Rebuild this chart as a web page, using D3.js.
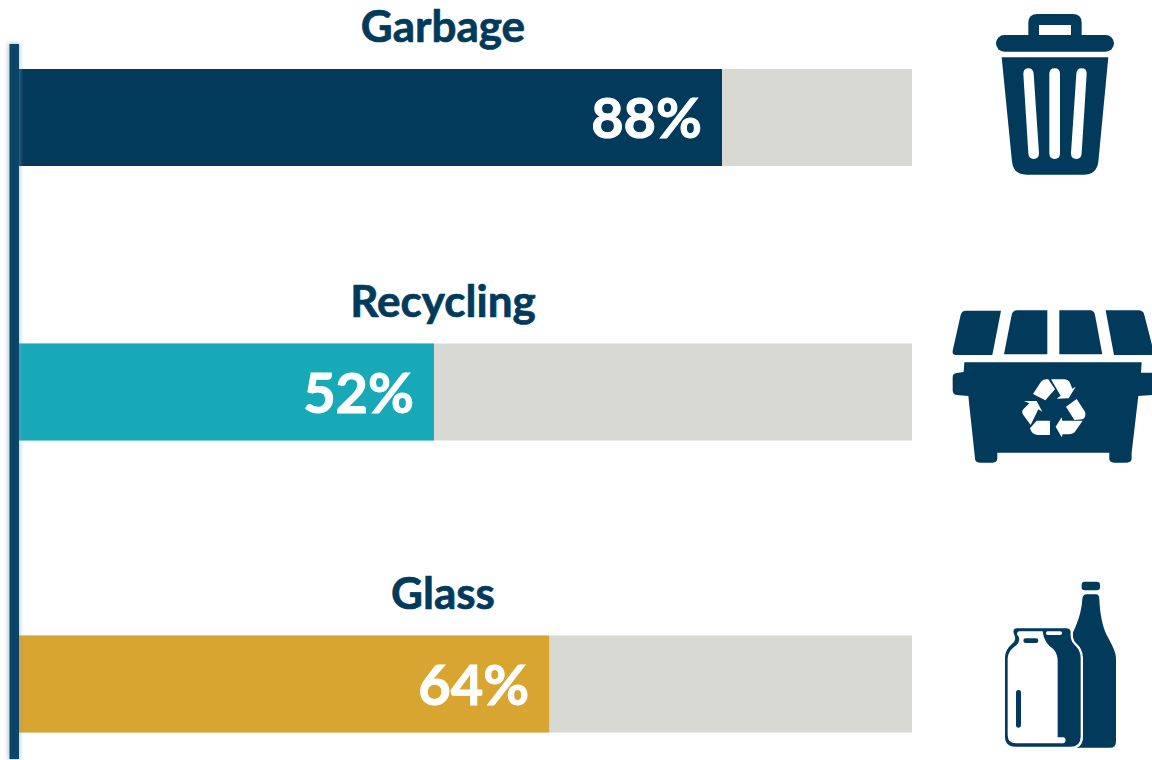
<!DOCTYPE html>
<html>
<head>
<meta charset="utf-8">
<script src="https://cdn.jsdelivr.net/npm/d3@7"></script>
<style>
  html, body { margin: 0; padding: 0; background: #fff; }
  svg { display: block; }
  text { font-family: Lato, "Open Sans", sans-serif; font-weight: 700; }
</style>
</head>
<body>
<div id="chart"></div>
<script>
const categories = ["Garbage", "Recycling", "Glass"]
const percentLabels = ["88%", "52%", "64%"]
// bar lengths as drawn: the glass bar runs a bit longer than its label says
const barLengths = [88, 52, 66.4]
const trackMax = 111.75

const navy = "#023A5C"
const barColors = ["#023A5C", "#17A9B8", "#D8A630"]
const trackColor = "#D9D9D4"

const width = 1152, height = 760
const svg = d3.select("#chart").append("svg")
  .attr("width", width)
  .attr("height", height)

const x = d3.scaleLinear().domain([0, trackMax]).range([18, 912])
const barTop = d3.scaleOrdinal().domain(categories).range([69, 343.5, 635.5])
const barHeight = 97

const defs = svg.append("defs")
defs.append("filter").attr("id", "soft")
  .attr("x", "-100%").attr("width", "300%")
  .append("feGaussianBlur").attr("stdDeviation", 2)

const rows = categories.map((c, i) => ({
  name: c, label: percentLabels[i], value: barLengths[i], color: barColors[i]
}))

// tracks and bars
svg.selectAll("rect.track").data(rows).join("rect")
  .attr("class", "track")
  .attr("x", x(0))
  .attr("y", d => barTop(d.name))
  .attr("width", x(trackMax) - x(0))
  .attr("height", barHeight)
  .attr("fill", trackColor)

svg.selectAll("rect.bar").data(rows).join("rect")
  .attr("class", "bar")
  .attr("x", x(0))
  .attr("y", d => barTop(d.name))
  .attr("width", d => x(d.value) - x(0))
  .attr("height", barHeight)
  .attr("fill", d => d.color)

// baseline with its soft shadow
svg.append("rect")
  .attr("x", 8).attr("y", 43).attr("width", 12).attr("height", 717)
  .attr("fill", "#7F9DB1").attr("opacity", 0.55)
  .attr("filter", "url(#soft)")
svg.append("rect")
  .attr("x", 9.5).attr("y", 44).attr("width", 9.5).attr("height", 715)
  .attr("fill", "#0B4568")

// titles
svg.selectAll("text.title").data(rows).join("text")
  .attr("class", "title")
  .attr("x", 443)
  .attr("y", d => barTop(d.name) - 27)
  .attr("text-anchor", "middle")
  .attr("font-size", 44)
  .attr("fill", navy)
  .attr("stroke", navy)
  .attr("stroke-width", 0.7)
  .text(d => d.name)

// percent labels
svg.selectAll("text.pct").data(rows).join("text")
  .attr("class", "pct")
  .attr("x", d => x(d.value) - 20)
  .attr("y", d => barTop(d.name) + 69)
  .attr("text-anchor", "end")
  .attr("font-size", 56)
  .attr("fill", "#fff")
  .attr("stroke", "#fff")
  .attr("stroke-width", 1)
  .text(d => d.label)

// icons, traced in a 3x grid local to each icon
const trash = svg.append("g").attr("transform", "translate(980,0) scale(0.3333)").attr("fill", navy)
trash.append("path").attr("fill-rule", "evenodd")
  .attr("d", "M145 110V68Q145 42 172 42H278Q305 42 305 68V110H273V75H177V110Z")
trash.append("rect").attr("x", 48).attr("y", 105).attr("width", 354).attr("height", 50).attr("rx", 25)
trash.append("path")
  .attr("d", "M65 172H385L355 485Q350 524 310 524H140Q100 524 96 485Z")
trash.selectAll("path.slot").data([
  "M130 222Q130 205 145 205Q160 205 161 222L177 460Q177 477 161 477Q146 477 145 460Z",
  "M208 222Q208 205 224 205Q240 205 240 222V460Q240 477 224 477Q208 477 208 460Z",
  "M289 222Q290 205 305 205Q321 205 320 222L305 460Q304 477 289 477Q273 477 273 460Z"
]).join("path").attr("class", "slot").attr("fill", "#fff").attr("d", d => d)

const dumpster = svg.append("g").attr("transform", "translate(940,300) scale(0.3333)").attr("fill", navy)
dumpster.selectAll("path.lid").data([
  "M78 32H183L157 165H48Q36 165 38 152L62 45Q65 32 78 32Z",
  "M232 31H322V163H192L215 45Q218 31 232 31Z",
  "M358 31H450Q462 31 465 45L487 163H358Z",
  "M497 31H595Q610 31 613 45L640 150V165H522Z"
]).join("path").attr("class", "lid").attr("d", d => d)
dumpster.append("path")
  .attr("d", "M73 187H605L603 218H640V285L595 288L575 458V475Q575 488 560 488H522Q508 488 508 475V458H172V475Q172 488 158 488H120Q105 488 105 475L85 288L50 285Q38 283 38 270V232Q38 220 50 219L71 216Z")
dumpster.selectAll("path.arrow").data([
  "M279 282L303 245Q310 236 325 238L345 268L316 301Z",
  "M333 238H372Q384 238 390 248L397 266L407 260L386 295L350 296L362 287Z",
  "M378 320L410 297L435 335Q440 350 428 358L403 360Z",
  "M428 362L405 395Q400 402 385 403H368L365 412L347 380L365 352L367 362Z",
  "M330 362V405H292Q275 403 270 385L290 362Z",
  "M252 303L290 303L307 335L295 328L272 375L250 345Q243 335 250 328L268 310Z"
]).join("path").attr("class", "arrow").attr("fill", "#fff").attr("d", d => d)

const glass = svg.append("g").attr("transform", "translate(990,575) scale(0.3333)").attr("fill", navy)
glass.append("rect").attr("x", 275).attr("y", 20).attr("width", 55).attr("height", 26).attr("rx", 9)
// bottle sits behind the jar
glass.append("path")
  .attr("d", "M290 58H318Q328 58 328 72C330 115 336 150 350 180C366 210 378 230 378 250V500Q378 518 360 518H240V190C262 150 275 110 277 72Q278 58 290 58Z")
// jar: navy shell with a white halo outside it
const jarShape = "M82 160H228Q242 160 242 172Q240 195 252 208Q272 225 272 248V485Q272 515 240 515H78Q45 515 45 485V248Q45 225 65 208Q82 195 72 178Q66 160 82 160Z"
glass.append("path").attr("fill", "#fff").attr("stroke", "#fff").attr("stroke-width", 14).attr("d", jarShape)
glass.append("path").attr("d", jarShape)
// white interior, left of the shaded part
glass.append("path").attr("fill", "#fff")
  .attr("d", "M88 169H158Q162 205 190 222Q204 238 203 262V487H222Q232 495 222 505H78Q53 505 53 480V250Q53 232 72 216Q98 198 81 178Q81 169 88 169Z")
glass.append("rect").attr("x", 168).attr("y", 169).attr("width", 48).attr("height", 11).attr("rx", 5).attr("fill", "#fff")
glass.append("rect").attr("x", 100).attr("y", 190).attr("width", 45).attr("height", 14).attr("rx", 7)
glass.append("rect").attr("x", 78).attr("y", 345).attr("width", 15).attr("height", 113).attr("rx", 7)
</script>
</body>
</html>
